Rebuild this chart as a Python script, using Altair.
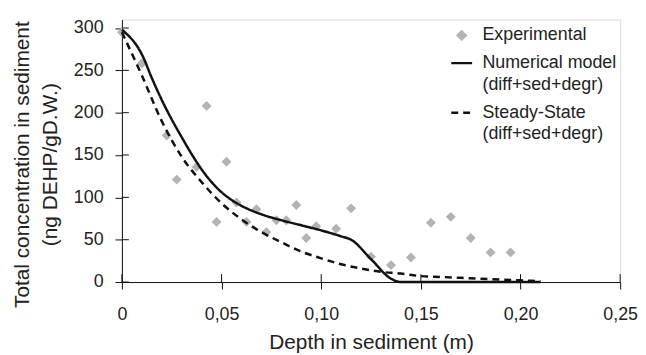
import altair as alt
import pandas as pd

# ---------------- data ----------------
exp_x = [0.0, 0.01, 0.0225, 0.0275, 0.0375, 0.0425, 0.0475, 0.0525, 0.0575, 0.0625,
         0.0675, 0.0725, 0.0775, 0.0825, 0.0875, 0.0925, 0.0975, 0.1075, 0.115, 0.125,
         0.135, 0.145, 0.155, 0.165, 0.175, 0.185, 0.195]
exp_y = [295, 258, 173, 121, 136, 208, 71, 142, 94, 71,
         86, 59, 73, 73, 91, 52, 66, 63, 87, 30,
         20, 29, 70, 77, 52, 35, 35]

num_x = [0.0, 0.0104, 0.015, 0.02, 0.025, 0.03, 0.035, 0.04, 0.045, 0.05, 0.055, 0.06,
         0.07, 0.08, 0.09, 0.10, 0.11, 0.115, 0.125, 0.135, 0.14, 0.15, 0.16, 0.17,
         0.18, 0.19, 0.20, 0.21]
num_y = [298, 267, 241, 215, 192, 171, 151, 133, 118, 106, 97, 90,
         80, 73, 67, 61, 54, 50, 27, 4, 0, 0, 0, 0,
         0, 0, 0, 0]

ss_x = [0.0, 0.01, 0.02, 0.03, 0.04, 0.05, 0.06, 0.07, 0.08, 0.09, 0.10, 0.11, 0.12,
        0.13, 0.14, 0.15, 0.16, 0.17, 0.18, 0.19, 0.20, 0.21]
ss_y = [295, 244, 190, 148, 118, 93, 74, 59, 47, 36, 28, 21, 16,
        12, 10, 7, 6, 5, 4, 3, 2, 1]

series = ["Experimental", "Numerical model", "Steady-State"]
x_ticks = [0, 0.05, 0.10, 0.15, 0.20, 0.25]
y_ticks = [0, 50, 100, 150, 200, 250, 300]

exp_df = pd.DataFrame({"x": exp_x, "y": exp_y, "series": series[0]})
line_df = pd.concat([
    pd.DataFrame({"x": num_x, "y": num_y, "series": series[1]}),
    pd.DataFrame({"x": ss_x, "y": ss_y, "series": series[2]}),
])
xt_df = pd.DataFrame({"xv": x_ticks})
yt_df = pd.DataFrame({"yv": y_ticks})

FONT = "Liberation Sans"
TXT = "#222222"
W, H = 503, 265

xscale = alt.Scale(domain=[0, 0.25], nice=False, zero=False)
yscale = alt.Scale(domain=[0, 310], nice=False)

xaxis = alt.Axis(
    values=x_ticks, title="Depth in sediment (m)", grid=False,
    ticks=True, tickSize=7, tickColor="#111111", tickWidth=1,
    labelExpr="datum.value == 0 ? '0' : replace(format(datum.value, '.2f'), '.', ',')",
    labelFlush=False, labelFontSize=18, titleFontSize=21, labelPadding=17, titlePadding=8,
    domainColor="#111111", labelColor=TXT, titleColor=TXT, titleFontWeight="normal",
    labelFont=FONT, titleFont=FONT,
)
yaxis = alt.Axis(
    values=y_ticks, title=["Total concentration in sediment", "(ng DEHP/gD.W.)"],
    grid=False, ticks=True, tickSize=7, tickColor="#111111", tickWidth=1,
    labelFlush=False, labelFontSize=18, titleFontSize=21,
    labelPadding=12, titlePadding=13, titleLineHeight=28, titleY=146,
    domainColor="#111111", labelColor=TXT,
    titleColor=TXT, titleFontWeight="normal", labelFont=FONT, titleFont=FONT,
)

color_scale = alt.Scale(domain=series, range=["#b3b3b3", "#111111", "#111111"])

legend = alt.Legend(
    title=None, orient="none", legendX=331, legendY=4,
    labelFontSize=18, labelFont=FONT, labelColor=TXT, labelOffset=9,
    labelBaseline="middle", rowPadding=7,
    labelExpr="datum.label == 'Experimental' ? 'Experimental' : [datum.label, '(diff+sed+degr)']",
    symbolType={"expr": "datum.value == 'Experimental' ? 'diamond' : 'stroke'"},
    symbolSize={"expr": "datum.value == 'Experimental' ? 64 : 441"},
    symbolFillColor={"expr": "datum.value == 'Experimental' ? '#b3b3b3' : 'transparent'"},
    symbolStrokeColor={"expr": "datum.value == 'Experimental' ? 'transparent' : '#111111'"},
    symbolDash={"expr": "datum.value == 'Steady-State' ? [7, 5] : [1, 0]"},
    symbolStrokeWidth=2.5, symbolOpacity=1,
)

points = alt.Chart(exp_df).mark_point(shape="diamond", filled=True, size=100, opacity=1).encode(
    x=alt.X("x:Q", scale=xscale, axis=xaxis),
    y=alt.Y("y:Q", scale=yscale, axis=yaxis),
    color=alt.Color("series:N", scale=color_scale, legend=legend),
)

lines = alt.Chart(line_df).mark_line(strokeWidth=2.5, interpolate="monotone").encode(
    x=alt.X("x:Q", scale=xscale),
    y=alt.Y("y:Q", scale=yscale),
    color=alt.Color("series:N", scale=color_scale, legend=legend),
    strokeDash=alt.StrokeDash("series:N", scale=alt.Scale(domain=series, range=[[1, 0], [1, 0], [7, 5]]), legend=None),
)

# inner halves of the crossing tick marks
xt = alt.Chart(xt_df).mark_rule(strokeWidth=1, color="#111111", opacity=1).encode(
    x=alt.X("xv:Q", scale=xscale), y=alt.value(H - 8), y2=alt.value(H),
)
yt = alt.Chart(yt_df).mark_rule(strokeWidth=1, color="#111111", opacity=1).encode(
    y=alt.Y("yv:Q", scale=yscale), x=alt.value(0), x2=alt.value(7),
)

chart = alt.layer(points, lines, xt, yt).properties(
    width=W, height=H,
    autosize=alt.AutoSizeParams(type="none"),
    padding={"left": 115, "top": 10, "right": 18, "bottom": 72},
).configure_view(stroke=None).configure(
    background="white", style={"guide-label": {"lineHeight": 22}}
)

chart.save("out.html", embed_options={"renderer": "svg", "actions": False})
